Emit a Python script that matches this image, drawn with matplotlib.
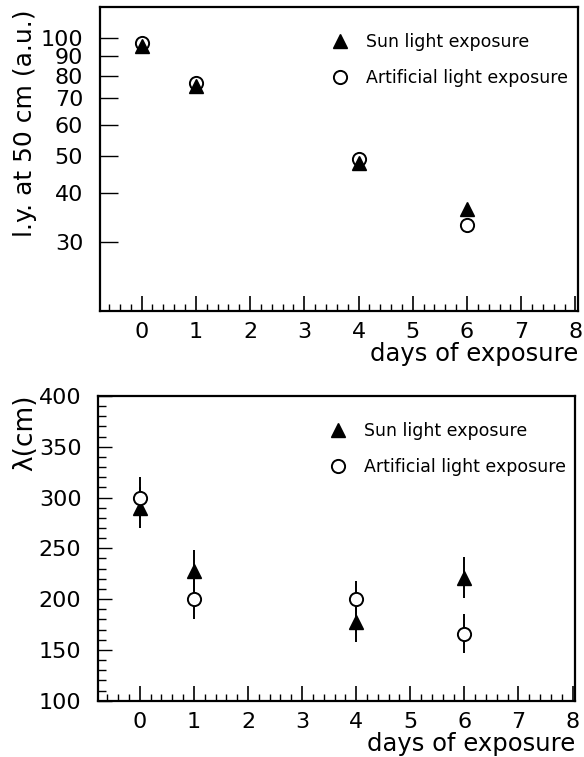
import matplotlib.pyplot as plt
from matplotlib.ticker import MultipleLocator, FixedLocator, NullLocator, FixedFormatter

# Data
days = [0, 1, 4, 6]

# top panel: light yield at 50 cm (a.u.)
ly_sun = [95, 75.5, 47.8, 36.4]
ly_art = [97, 76.8, 48.9, 33.3]

# bottom panel: attenuation length (cm)
lam_sun = [290, 228, 177, 221]
lam_sun_err = [20, 20, 19, 20]
lam_art = [300, 200, 200, 166]
lam_art_err = [20, 20, 18, 19]

ly_ticks = [30, 40, 50, 60, 70, 80, 90, 100]

plt.rcParams['font.family'] = 'DejaVu Sans'
plt.rcParams['ytick.major.pad'] = 12
plt.rcParams['ytick.minor.pad'] = 12
plt.rcParams['xtick.major.pad'] = 8

fig = plt.figure(figsize=(5.84, 7.57), dpi=100)
ax1 = fig.add_axes([0.171, 0.589, 0.819, 0.402])
ax2 = fig.add_axes([0.168, 0.0744, 0.817, 0.4026])

msize = 9.5
fs = 16


def style_x(ax):
    ax.set_xlim(-0.77, 8.05)
    ax.xaxis.set_major_locator(MultipleLocator(1))
    ax.xaxis.set_minor_locator(MultipleLocator(0.2))
    ax.tick_params(axis='x', which='major', direction='in', length=11, width=1.2,
                   labelsize=fs, top=False)
    ax.tick_params(axis='x', which='minor', direction='in', length=5, width=1.0, top=False)
    for s in ax.spines.values():
        s.set_linewidth(1.6)
    ax.set_xlabel('days of exposure', fontsize=17.5, loc='right', labelpad=0)


def add_legend(ax, y0):
    ax.legend(loc='upper left', bbox_to_anchor=(0.484, y0), frameon=False, fontsize=12.5,
              handlelength=1.0, handletextpad=1.0, labelspacing=1.05,
              borderpad=0, borderaxespad=0)


# top panel
ax1.set_yscale('log')
ax1.plot(days, ly_sun, linestyle='none', marker='^', color='black', markersize=msize,
         label='Sun light exposure')
ax1.plot(days, ly_art, linestyle='none', marker='o', markerfacecolor='none',
         markeredgecolor='black', markeredgewidth=1.4, markersize=msize,
         label='Artificial light exposure')
ax1.set_ylim(20, 120)
ax1.yaxis.set_major_locator(FixedLocator(ly_ticks))
ax1.yaxis.set_major_formatter(FixedFormatter([str(t) for t in ly_ticks]))
ax1.yaxis.set_minor_locator(NullLocator())
ax1.tick_params(axis='y', which='major', direction='in', length=13, width=1.0,
                labelsize=fs, right=False)
ax1.set_ylabel('l.y. at 50 cm (a.u.)', fontsize=18, loc='top')
ax1.yaxis.set_label_coords(-0.132, 0.99)
style_x(ax1)
add_legend(ax1, 0.915)

# bottom panel
ax2.errorbar(days, lam_sun, yerr=lam_sun_err, fmt='none', ecolor='black',
             elinewidth=1.4, capsize=0)
ax2.errorbar(days, lam_art, yerr=lam_art_err, fmt='none', ecolor='black',
             elinewidth=1.4, capsize=0)
ax2.plot(days, lam_sun, linestyle='none', marker='^', color='black', markersize=msize,
         label='Sun light exposure')
ax2.plot(days, lam_art, linestyle='none', marker='o', markerfacecolor='white',
         markeredgecolor='black', markeredgewidth=1.4, markersize=msize,
         label='Artificial light exposure')
ax2.set_ylim(100, 400)
ax2.yaxis.set_major_locator(MultipleLocator(50))
ax2.yaxis.set_minor_locator(MultipleLocator(10))
ax2.tick_params(axis='y', which='major', direction='in', length=10, width=1.0,
                labelsize=fs, right=False)
ax2.tick_params(axis='y', which='minor', direction='in', length=6, width=1.0, right=False)
ax2.set_ylabel('λ(cm)', fontsize=19, loc='top')
ax2.yaxis.set_label_coords(-0.125, 1.005)
style_x(ax2)
add_legend(ax2, 0.915)

fig.savefig('out.png', dpi=100)
